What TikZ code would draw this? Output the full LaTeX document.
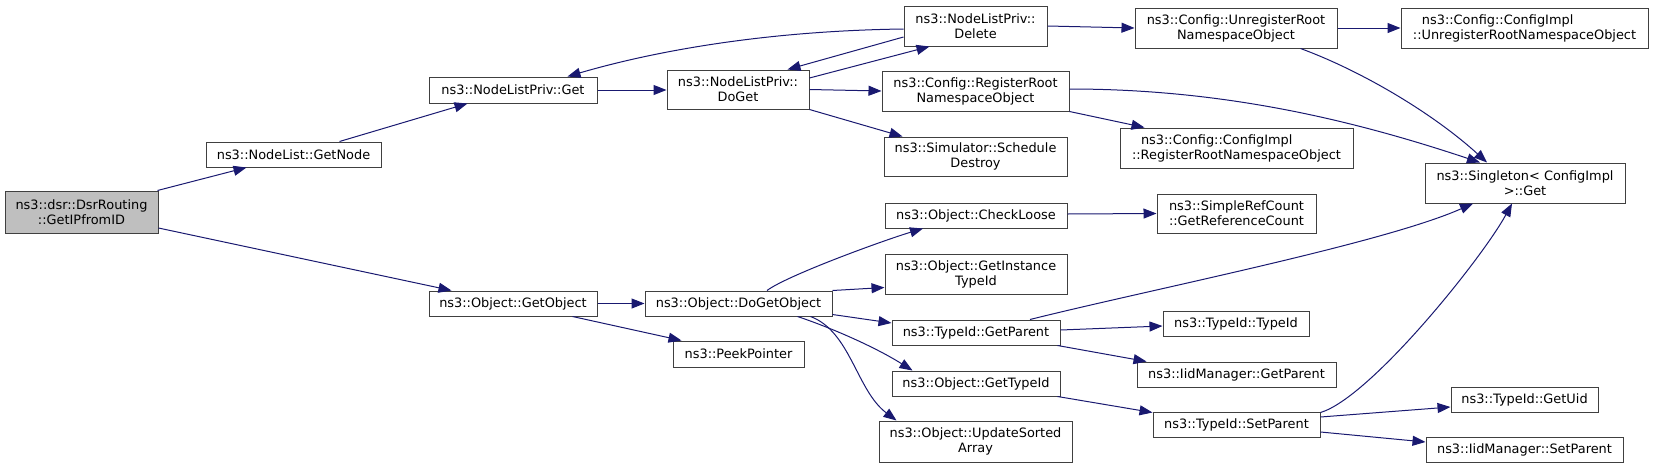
\documentclass[tikz,border=0pt]{standalone}
\usepackage{fontspec}
\setmainfont{DejaVu Sans}
\usetikzlibrary{arrows.meta}
\definecolor{edgecol}{HTML}{191970}
\definecolor{boxcol}{HTML}{404040}
\definecolor{curfill}{HTML}{BFBFBF}
\tikzset{
  fn/.style={draw=boxcol, line width=1pt, rectangle, inner sep=1pt, align=center,
    font=\fontsize{12.9}{15}\selectfont, text=black},
  cur/.style={fn, fill=curfill},
  call/.style={draw=edgecol, line width=1pt, -{Triangle[length=13pt,width=10pt]}},
}
\begin{document}
\begin{tikzpicture}[x=1pt,y=-1pt]
\useasboundingbox (0,0) rectangle (1653,469);
% nodes
\node[cur, minimum width=153, minimum height=42] (dsr) at (81.5,212) {ns3::dsr::DsrRouting\\::GetIPfromID};
\node[fn, minimum width=175, minimum height=25] (getnode) at (293.5,154.5) {ns3::NodeList::GetNode};
\node[fn, minimum width=168, minimum height=26] (nlget) at (513,90) {ns3::NodeListPriv::Get};
\node[fn, minimum width=142, minimum height=39] (doget) at (738,89.5) {ns3::NodeListPriv::\\DoGet};
\node[fn, minimum width=143, minimum height=40] (delete) at (975.5,26) {ns3::NodeListPriv::\\Delete};
\node[fn, minimum width=202, minimum height=40] (unreg) at (1236,28) {ns3::Config::UnregisterRoot\\NamespaceObject};
\node[fn, minimum width=187, minimum height=40] (regroot) at (975.5,91) {ns3::Config::RegisterRoot\\NamespaceObject};
\node[fn, minimum width=183, minimum height=39] (sched) at (975.5,156.5) {ns3::Simulator::Schedule\\Destroy};
\node[fn, align=left, minimum width=247, minimum height=40] (ciunreg) at (1524.5,28) {\hspace*{9pt}ns3::Config::ConfigImpl\\::UnregisterRootNamespaceObject};
\node[fn, align=left, minimum width=233, minimum height=40] (cireg) at (1236.5,148) {\hspace*{9pt}ns3::Config::ConfigImpl\\::RegisterRootNamespaceObject};
\node[fn, minimum width=200, minimum height=40] (singleton) at (1525,183) {ns3::Singleton< ConfigImpl\\ >::Get};
\node[fn, minimum width=168, minimum height=25] (getobject) at (513,303.5) {ns3::Object::GetObject};
\node[fn, minimum width=187, minimum height=25] (dogetobj) at (738.5,303.5) {ns3::Object::DoGetObject};
\node[fn, minimum width=131, minimum height=26] (peek) at (738.5,354) {ns3::PeekPointer};
\node[fn, minimum width=182, minimum height=25] (checkloose) at (976,215.5) {ns3::Object::CheckLoose};
\node[fn, minimum width=159, minimum height=39] (simpleref) at (1236.5,213.5) {ns3::SimpleRefCount\\::GetReferenceCount};
\node[fn, minimum width=182, minimum height=40] (getinst) at (976,274) {ns3::Object::GetInstance\\TypeId};
\node[fn, minimum width=168, minimum height=25] (tgetparent) at (976,332.5) {ns3::TypeId::GetParent};
\node[fn, minimum width=146, minimum height=25] (typeid) at (1236,323.5) {ns3::TypeId::TypeId};
\node[fn, minimum width=199, minimum height=25] (iidgetparent) at (1236.5,374.5) {ns3::IidManager::GetParent};
\node[fn, minimum width=168, minimum height=25] (gettypeid) at (976,383.5) {ns3::Object::GetTypeId};
\node[fn, minimum width=193, minimum height=41] (update) at (975.5,441.5) {ns3::Object::UpdateSorted\\Array};
\node[fn, minimum width=167, minimum height=25] (setparent) at (1236.5,424.5) {ns3::TypeId::SetParent};
\node[fn, minimum width=147, minimum height=25] (getuid) at (1524.5,399.5) {ns3::TypeId::GetUid};
\node[fn, minimum width=197, minimum height=25] (iidsetparent) at (1524.5,449.5) {ns3::IidManager::SetParent};
% edges
\draw[call] ([xshift=-1pt]dsr.north east) -- ([xshift=41pt]getnode.south west);
\draw[call] ([yshift=-16pt]dsr.east) -- ([xshift=23pt]getobject.north west);
\draw[call] ([xshift=-42pt]getnode.north east) -- ([xshift=39pt]nlget.south west);
\draw[call] (nlget.east) -- (doget.west |- nlget.east);
\draw[call] ([yshift=11.5pt]doget.east) -- ([xshift=26pt]delete.south west);
\draw[call] ([yshift=-3pt]delete.west) .. controls +(-150,2) and +(75,-22) .. ([xshift=-30pt]nlget.north east);
\draw[call] ([yshift=-11pt]delete.west) -- ([xshift=-22pt]doget.north east);
\draw[call] (doget.east) -- (regroot.west);
\draw[call] (doget.south east) -- ([xshift=19pt]sched.north west);
\draw[call] (delete.east) -- (unreg.west);
\draw[call] (unreg.east) -- (ciunreg.west);
\draw[call] ([xshift=-37pt]unreg.south east) .. controls +(60,22) and +(-55,-50) .. ([xshift=-38pt]singleton.north);
\draw[call] ([yshift=2pt]regroot.east) .. controls +(160,0) and +(-120,-40) .. ([xshift=-45pt]singleton.north);
\draw[call] (regroot.south east) -- ([xshift=25pt]cireg.north west);
\draw[call] (getobject.east) -- (dogetobj.west);
\draw[call] ([xshift=-25pt]getobject.south east) -- ([xshift=9pt]peek.north west);
\draw[call] ([xshift=28.5pt]dogetobj.north) .. controls +(20,-15) and +(-40,12) .. ([xshift=-53pt]checkloose.south);
\draw[call] (dogetobj.north east) -- ([yshift=7pt]getinst.south west);
\draw[call] ([yshift=2pt]dogetobj.south east) -- ([yshift=9.5pt]tgetparent.west);
\draw[call] ([xshift=-35pt]dogetobj.south east) .. controls +(30,10) and +(-40,-25) .. ([xshift=21pt]gettypeid.north west);
\draw[call] ([xshift=-22pt]dogetobj.south east) .. controls +(40,15) and +(-40,-30) .. ([xshift=18pt]update.north west);
\draw[call] ([xshift=54pt]tgetparent.north) .. controls +(120,-30) and +(-90,40) .. ([xshift=-52pt]singleton.south);
\draw[call] ([yshift=2.5pt]tgetparent.east) -- ([yshift=-2.5pt]typeid.west);
\draw[call] ([xshift=-3pt]tgetparent.south east) -- ([xshift=10pt]iidgetparent.north west);
\draw[call] ([xshift=-3pt]gettypeid.south east) -- ([yshift=-1pt]setparent.north west);
\draw[call] ([yshift=1.5pt]checkloose.east) -- (simpleref.west);
\draw[call] ([yshift=-1pt]setparent.north east) .. controls +(50,-15) and +(-30,55) .. ([xshift=-13pt]singleton.south);
\draw[call] ([yshift=7.5pt]setparent.east) -- ([yshift=-7.5pt]getuid.west);
\draw[call] ([yshift=-7.5pt]setparent.east) -- ([yshift=7.5pt]iidsetparent.west);
\end{tikzpicture}
\end{document}
